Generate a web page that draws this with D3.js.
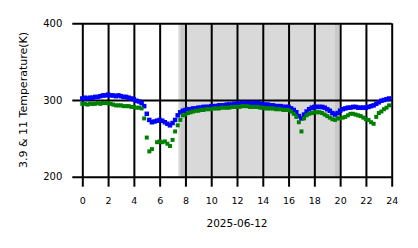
<!DOCTYPE html>
<html>
<head>
<meta charset="utf-8">
<script src="https://cdn.jsdelivr.net/npm/d3@7"></script>
<style>
  body { margin: 0; background: #fff; }
  text { font-family: "DejaVu Sans", sans-serif; fill: #000; }
</style>
</head>
<body>
<div id="chart"></div>
<script>
// readings every 12 minutes from 00:00, in K
const t39 = [
    302, 303, 302, 303, 303, 304, 304, 305, 306, 306,
    307, 306, 306, 305, 306, 305, 304, 304, 303, 302,
    301, 299, 298, 296, 292, 282, 274, 271, 272, 273,
    274, 273, 271, 269, 267, 270, 274, 280, 284, 286,
    287, 288, 288, 289, 289, 290, 290, 291, 291, 291,
    292, 292, 292, 293, 293, 293, 294, 294, 294, 295,
    295, 295, 296, 295, 296, 296, 295, 296, 296, 295,
    294, 294, 294, 293, 293, 292, 292, 292, 291, 291,
    291, 289, 287, 284, 279, 276, 281, 285, 288, 290,
    291, 291, 291, 291, 290, 288, 286, 283, 281, 283,
    286, 288, 289, 290, 290, 291, 291, 290, 290, 290,
    290, 291, 292, 293, 295, 297, 299, 300, 301, 302
];
const t11 = [
    295, 295, 294, 295, 295, 295, 296, 295, 296, 296,
    296, 295, 294, 293, 293, 293, 292, 292, 292, 291,
    291, 290, 290, 289, 276, 251, 233, 236, null, 245,
    246, 245, 246, 243, 240, 248, 259, 267, 274, 280,
    281, 283, 284, 285, 286, 286, 287, 287, 288, 288,
    288, 289, 289, 289, 290, 290, 290, 290, 291, 291,
    291, 291, 292, 292, 292, 291, 291, 291, 291, 290,
    290, 289, 289, 289, 289, 288, 288, 288, 287, 287,
    287, 285, 282, 278, 271, 259, 276, 280, 282, 283,
    284, 284, 284, 283, 281, 279, 277, 275, 274, 276,
    276, 277, 278, 280, 282, 282, 281, 280, 279, 277,
    275, 274, 271, 269, 278, 283, 285, 288, 290, 293
];
const stepMinutes = 12;
const xTicks = [0, 2, 4, 6, 8, 10, 12, 14, 16, 18, 20, 22, 24];
const yTicks = [200, 300, 400];
const dayShade = [7.45, 19.93];
const shadeEdges = [[7.62, 7.9], [19.6, 19.93]];
const dateLabel = "2025-06-12";
const yLabel = "3.9 & 11 Temperature(K)";

const W = 418, H = 248;
const pL = 82.3, pR = 391.7, pT = 23.3, pB = 176.7;

const svg = d3.select("#chart").append("svg")
    .attr("width", W).attr("height", H);

const x = d3.scaleLinear().domain([0, 24]).range([pL, pR]);
const y = d3.scaleLinear().domain([200, 400]).range([pB, pT]);

// daytime shading
svg.append("rect")
    .attr("x", x(dayShade[0])).attr("y", pT)
    .attr("width", x(dayShade[1]) - x(dayShade[0]))
    .attr("height", pB - pT)
    .attr("fill", "#d9d9d9");
svg.selectAll(".edge").data(shadeEdges).enter().append("rect")
    .attr("x", d => x(d[0])).attr("y", pT)
    .attr("width", d => x(d[1]) - x(d[0]))
    .attr("height", pB - pT)
    .attr("fill", "#c9c9c9");

// grid + ticks
const xAxis = d3.axisBottom(x).tickValues(xTicks)
    .tickSize(pB - pT + 10).tickPadding(11);
svg.append("g").attr("transform", `translate(0,${pT})`).call(xAxis)
    .call(g => g.select(".domain").remove())
    .call(g => g.selectAll("line").attr("stroke", "#000").attr("stroke-width", 2))
    .call(g => g.selectAll("text").attr("font-size", 9.5)
        .attr("font-family", "DejaVu Sans"));

const yAxis = d3.axisLeft(y).tickValues(yTicks)
    .tickSize(pR - pL + 10).tickPadding(10);
svg.append("g").attr("transform", `translate(${pR},0)`).call(yAxis)
    .call(g => g.select(".domain").remove())
    .call(g => g.selectAll("line").attr("stroke", "#000").attr("stroke-width", 2))
    .call(g => g.selectAll("text").attr("font-size", 10)
        .attr("font-family", "DejaVu Sans"));

// points
function drawSeries(vals, color, m) {
    const pts = vals.map((v, i) => ({h: i * stepMinutes / 60, v}))
        .filter(d => d.v != null);
    svg.append("g").selectAll("rect").data(pts).enter().append("rect")
        .attr("x", d => x(d.h) - m / 2)
        .attr("y", d => y(d.v) - m / 2)
        .attr("width", m).attr("height", m)
        .attr("fill", color);
}
drawSeries(t39, "#0000ff", 4.5);
drawSeries(t11, "#008000", 4);

// labels
svg.append("text")
    .attr("x", x(12)).attr("y", 226.5)
    .attr("text-anchor", "middle").attr("font-size", 10.5)
    .text(dateLabel);
svg.append("text")
    .attr("transform", `translate(27,${(pT + pB) / 2}) rotate(-90)`)
    .attr("text-anchor", "middle").attr("font-size", 11)
    .text(yLabel);
</script>
</body>
</html>
